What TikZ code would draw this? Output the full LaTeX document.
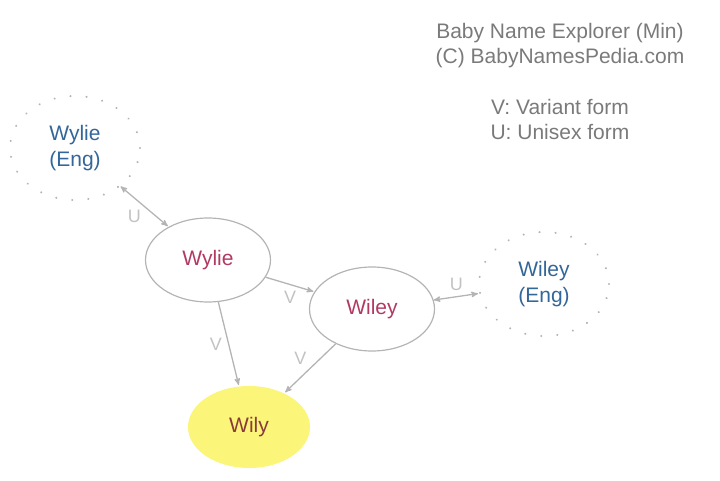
\documentclass[tikz,border=0pt]{standalone}
\usepackage{fontspec}
\setmainfont{Liberation Sans}
\usetikzlibrary{arrows,calc,shapes.geometric}
\definecolor{linegray}{HTML}{B4B4B4}
\definecolor{labelgray}{HTML}{C2C2C2}
\definecolor{textgray}{HTML}{7A7A7A}
\definecolor{engblue}{HTML}{336699}
\definecolor{namered}{HTML}{B23A62}
\definecolor{pickred}{HTML}{8B3A3A}
\definecolor{pickfill}{HTML}{FBF57A}
\begin{document}
\begin{tikzpicture}[x=1pt,y=-1pt,->,>=stealth',shorten >=1pt,
  line width=1.3pt,draw=linegray,
  name node/.style={ellipse,draw=linegray,line width=1.2pt,minimum width=125pt,minimum height=84pt,
    text=namered,font=\fontsize{21}{25}\selectfont},
  eng node/.style={ellipse,draw=linegray,line width=2.2pt,line cap=round,dash pattern=on 0.1pt off 16pt,
    minimum width=130pt,minimum height=104pt,align=center,text=engblue,font=\fontsize{21}{26}\selectfont},
  pick node/.style={ellipse,fill=pickfill,minimum width=122pt,minimum height=82pt,
    text=pickred,font=\fontsize{21}{25}\selectfont},
  lbl/.style={text=labelgray,font=\fontsize{18}{20}\selectfont,inner sep=3pt},
  legend/.style={align=center,text=textgray,font=\fontsize{21}{25}\selectfont}]
\useasboundingbox (0,0) rectangle (720,481);

\node[eng node](WylieEng) at (75,148) {Wylie\\(Eng)};
\node[name node](Wylie) at (208,260) {Wylie};
\node[name node](Wiley) at (372,309) {Wiley};
\node[eng node](WileyEng) at (544,284) {Wiley\\(Eng)};
\node[pick node](Wily) at (249,427) {Wily};

\node[legend](Credit) at (560,46) {Baby Name Explorer (Min)\\(C) BabyNamesPedia.com};
\node[legend](Key) at (560,119) {V: Variant form\\U: Unisex form};

\path
(WylieEng) edge[<->] node[lbl,below left] {U} (Wylie)
(Wylie) edge node[lbl,below=3pt] {V} (Wiley)
(Wylie) edge node[lbl,left=3pt] {V} (Wily)
(Wiley) edge node[lbl,above left] {V} (Wily)
(Wiley) edge[<->] node[lbl,above=2pt] {U} (WileyEng);
\end{tikzpicture}
\end{document}
